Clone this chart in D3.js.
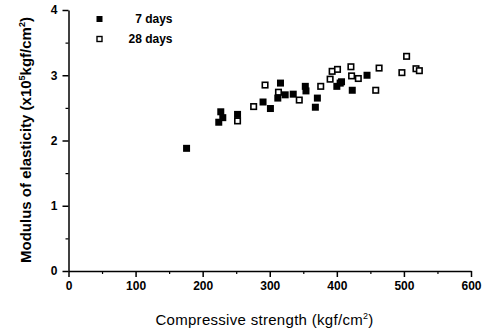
<!DOCTYPE html>
<html>
<head>
<meta charset="utf-8">
<script src="https://cdn.jsdelivr.net/npm/d3@7"></script>
<style>
  body { margin: 0; background: #fff; }
  svg { display: block; font-family: "Liberation Sans", Arial, sans-serif; }
</style>
</head>
<body>
<div id="chart"></div>
<script>
// Data
const strength7 = [176, 224, 227, 230, 252, 290, 301, 312, 316, 323, 335, 353, 354, 368, 371, 400, 407, 423, 445];
const modulus7  = [1.88, 2.28, 2.44, 2.35, 2.40, 2.59, 2.49, 2.65, 2.88, 2.70, 2.71, 2.83, 2.76, 2.51, 2.65, 2.83, 2.90, 2.77, 3.00];

const strength28 = [252, 276, 293, 313, 344, 376, 390, 393, 401, 405, 421, 422, 432, 458, 463, 497, 504, 518, 523];
const modulus28  = [2.30, 2.52, 2.85, 2.74, 2.62, 2.83, 2.94, 3.06, 3.09, 2.88, 3.13, 2.99, 2.95, 2.77, 3.11, 3.04, 3.29, 3.10, 3.07];

const xTicks = [0, 100, 200, 300, 400, 500, 600];
const yTicks = [0, 1, 2, 3, 4];
const legendLabels = ['7 days', '28 days'];

const margin = { top: 10, right: 19, bottom: 60, left: 68.5 };
const width = 490 - margin.left - margin.right;
const height = 331 - margin.top - margin.bottom;

const svg = d3.select('#chart')
    .append('svg')
    .attr('width', 490)
    .attr('height', 331)
    .append('g')
    .attr('transform', `translate(${margin.left},${margin.top})`);

// Scales
const x = d3.scaleLinear().domain([0, 600]).range([0, width]);
const y = d3.scaleLinear().domain([0, 4]).range([height, 0]);

// Minor ticks
svg.append('g')
    .attr('transform', `translate(0,${height})`)
    .call(d3.axisBottom(x).tickValues(d3.range(50, 600, 100)).tickSize(3).tickFormat(''))
    .call(g => g.select('.domain').remove())
    .selectAll('line').attr('stroke', '#000').attr('stroke-width', 1.2);

svg.append('g')
    .call(d3.axisLeft(y).tickValues(d3.range(0.5, 4, 1)).tickSize(3).tickFormat(''))
    .call(g => g.select('.domain').remove())
    .selectAll('line').attr('stroke', '#000').attr('stroke-width', 1.2);

// X axis
const xAxis = svg.append('g')
    .attr('transform', `translate(0,${height})`)
    .call(d3.axisBottom(x).tickValues(xTicks).tickSize(6).tickSizeOuter(0).tickPadding(4));

xAxis.selectAll('text')
    .style('font-size', '12px')
    .style('font-weight', 'bold')
    .attr('fill', '#000');
xAxis.selectAll('path, line').attr('stroke', '#000').attr('stroke-width', 1.5);

// Y axis
const yAxis = svg.append('g')
    .call(d3.axisLeft(y).tickValues(yTicks).tickFormat(d3.format('d')).tickSize(6).tickSizeOuter(0).tickPadding(5));

yAxis.selectAll('text')
    .style('font-size', '12px')
    .style('font-weight', 'bold')
    .attr('fill', '#000');
yAxis.selectAll('path, line').attr('stroke', '#000').attr('stroke-width', 1.5);

// Points
const s = 7;
const pts7 = strength7.map((d, i) => ({ x: d, y: modulus7[i] }));
const pts28 = strength28.map((d, i) => ({ x: d, y: modulus28[i] }));

svg.append('g')
    .selectAll('rect')
    .data(pts28)
    .enter()
    .append('rect')
    .attr('x', d => x(d.x) - s / 2 + 0.75)
    .attr('y', d => y(d.y) - s / 2 + 0.75)
    .attr('width', s - 1.5)
    .attr('height', s - 1.5)
    .attr('fill', '#fff')
    .attr('stroke', '#000')
    .attr('stroke-width', 1.6);

svg.append('g')
    .selectAll('rect')
    .data(pts7)
    .enter()
    .append('rect')
    .attr('x', d => x(d.x) - s / 2)
    .attr('y', d => y(d.y) - s / 2)
    .attr('width', s)
    .attr('height', s)
    .attr('fill', '#000');

// Legend
const legend = svg.append('g');
legendLabels.forEach((lab, i) => {
    const ly = 9 + i * 20;
    if (i === 0) {
        legend.append('rect')
            .attr('x', 28).attr('y', ly - 3)
            .attr('width', 6).attr('height', 6)
            .attr('fill', '#000');
    } else {
        legend.append('rect')
            .attr('x', 28.5).attr('y', ly - 2.5)
            .attr('width', 5).attr('height', 5)
            .attr('fill', '#fff')
            .attr('stroke', '#000')
            .attr('stroke-width', 1.4);
    }
    legend.append('text')
        .attr('x', 104)
        .attr('y', ly + 4)
        .attr('text-anchor', 'end')
        .style('font-size', '12px')
        .style('font-weight', 'bold')
        .text(lab);
});

// Axis titles
const xTitle = svg.append('text')
    .attr('x', 196)
    .attr('y', height + 54)
    .attr('text-anchor', 'middle')
    .style('font-size', '15px')
    .style('letter-spacing', '0.3px');
xTitle.append('tspan').text('Compressive strength (kgf/cm');
xTitle.append('tspan').attr('dy', -6).style('font-size', '9px').text('2');
xTitle.append('tspan').attr('dy', 6).text(')');

const yTitle = svg.append('text')
    .attr('transform', `translate(-38,130) rotate(-90)`)
    .attr('text-anchor', 'middle')
    .style('font-size', '15px')
    .style('font-weight', 'bold');
yTitle.append('tspan').text('Modulus of elasticity (x10');
yTitle.append('tspan').attr('dy', -6).style('font-size', '9px').text('5');
yTitle.append('tspan').attr('dy', 6).text('kgf/cm');
yTitle.append('tspan').attr('dy', -6).style('font-size', '9px').text('2');
yTitle.append('tspan').attr('dy', 6).text(')');
</script>
</body>
</html>
